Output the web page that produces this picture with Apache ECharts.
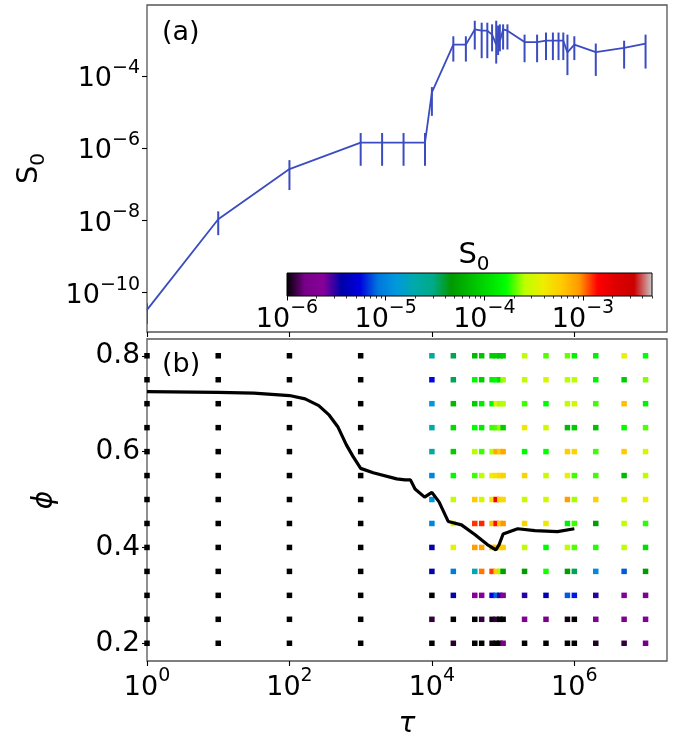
<!DOCTYPE html>
<html>
<head>
<meta charset="utf-8">
<script src="https://cdn.jsdelivr.net/npm/echarts@6/dist/echarts.min.js"></script>
<style>
  html, body { margin: 0; padding: 0; background: #fff; }
  #chart { width: 679px; height: 740px; }
</style>
</head>
<body>
<div id="chart"></div>
<script>
// (a) S0 against tau, with the lower / upper ends of each error bar
const s0Tau = [1, 10, 100, 1e3, 2e3, 4e3, 8e3, 1e4, 2e4, 3e4, 4e4, 5e4, 6e4, 7e4, 8e4, 8.5e4, 9e4, 1e5, 1.15e5,
  2e5, 3e5, 4e5, 5e5, 6e5, 7e5, 8e5, 1e6, 2e6, 5e6, 1e7]
const s0Val = [3.2e-11, 1.05e-8, 2.6e-7, 1.4e-6, 1.4e-6, 1.4e-6, 1.4e-6, 3.5e-5, 7.4e-4, 7.4e-4, 1.95e-3, 1.8e-3, 1.8e-3,
  1.4e-3, 7.4e-4, 1.6e-3, 9.1e-4, 1.95e-3, 1.8e-3,
  8.7e-4, 8.7e-4, 9.5e-4, 9.5e-4, 9.5e-4, 9.5e-4, 4.5e-4, 7.4e-4, 4.6e-4, 6.0e-4, 7.9e-4]
const s0Lo = [1.3e-11, 3.8e-9, 6.8e-8, 3.2e-7, 3.2e-7, 3.2e-7, 3.2e-7, 7.8e-6, 2.5e-4, 2.5e-4, 5.4e-4, 3.1e-4, 3.1e-4,
  4.8e-4, 2.2e-4, 3.8e-4, 4.8e-4, 5.4e-4, 5.4e-4,
  2.4e-4, 2.4e-4, 2.75e-4, 2.75e-4, 2.75e-4, 2.75e-4, 1.05e-4, 2.75e-4, 1.0e-4, 1.6e-4, 1.6e-4]
const s0Hi = [4.9e-11, 1.74e-8, 4.6e-7, 2.6e-6, 2.6e-6, 2.6e-6, 2.6e-6, 4.9e-5, 1.26e-3, 1.26e-3, 3.4e-3, 3.0e-3, 3.0e-3,
  2.7e-3, 3.4e-3, 2.5e-3, 2.7e-3, 2.7e-3, 2.7e-3,
  1.4e-3, 1.4e-3, 1.6e-3, 1.6e-3, 1.6e-3, 1.6e-3, 1.4e-3, 1.26e-3, 7.9e-4, 9.5e-4, 1.4e-3]

// (b) grid of runs: columns in tau, rows in phi, colour = log10(S0)  (-7 means below the colour range)
const gridTau = [1, 10, 100, 1e3, 1e4, 2e4, 4e4, 5e4, 7e4, 8e4, 9e4, 1e5, 2e5, 4e5, 8e5, 1e6, 2e6, 5e6, 1e7]
const gridPhi = [0.8, 0.75, 0.7, 0.65, 0.6, 0.55, 0.5, 0.45, 0.4, 0.35, 0.3, 0.25, 0.2]
const gridLogS0 = [
  [-7, -7, -7, -7, -4.65, -4.45, -4.15, -4.1, -4.05, -4.05, -4.1, -4.05, -3.58, -3.7, -3.68, -3.85, -3.85, -3.42, -3.78],
  [-7, -7, -7, -7, -5.25, -4.45, -3.8, -4.05, -3.85, -3.8, -3.95, -3.62, -3.58, -3.48, -3.6, -3.58, -3.85, -4.05, -3.65],
  [-7, -7, -7, -7, -4.9, -4.15, -4.05, -3.88, -3.8, -3.45, -3.62, -3.6, -3.72, -3.8, -3.58, -3.5, -3.72, -3.18, -3.85],
  [-7, -7, -7, -7, -4.7, -3.98, -3.78, -3.88, -3.72, -3.7, -3.62, -4.05, -3.38, -3.52, -4.15, -4.05, -4.12, -3.8, -3.7],
  [-7, -7, -7, -7, -4.65, -4.05, -3.6, -3.72, -3.6, -3.1, -3.22, -3.1, -3.8, -3.78, -3.24, -3.27, -3.72, -3.22, -3.48],
  [-7, -7, -7, -7, -5.0, -3.8, -3.72, -3.58, -3.4, -3.35, -3.3, -3.25, -3.27, -3.55, -3.42, -3.72, -3.72, -4.15, -3.58],
  [-7, -7, -7, -7, -4.9, -3.57, -3.22, -3.52, -3.35, -2.8, -3.27, -3.3, -3.55, -3.52, -3.06, -3.62, -3.27, -3.48, -3.42],
  [-7, -7, -7, -7, -5.0, -3.42, -2.92, -2.9, -3.18, -2.87, -3.24, -3.04, -3.27, -3.38, -3.85, -3.72, -4.3, -3.58, -3.74],
  [-7, -7, -7, -7, -5.45, -3.45, -3.06, -3.08, -3.16, -3.2, -3.22, -3.24, -3.58, -3.8, -3.58, -3.7, -3.75, -3.58, -3.95],
  [-7, -7, -7, -7, -5.45, -5.05, -4.75, -3.0, -2.93, -3.24, -3.62, -4.3, -4.32, -3.76, -4.32, -4.45, -4.98, -5.12, -4.32],
  [-7, -7, -7, -7, -7, -5.45, -5.65, -5.65, -5.26, -5.1, -5.5, -5.68, -5.5, -5.42, -5.12, -5.22, -5.5, -5.62, -5.75],
  [-7, -7, -7, -7, -5.92, -7, -7, -5.92, -5.97, -5.92, -7, -7, -5.7, -5.78, -5.97, -7, -5.7, -5.75, -5.62],
  [-7, -7, -7, -7, -7, -5.94, -7, -7, -5.97, -7, -7, -5.78, -7, -7, -7, -7, -5.95, -5.92, -5.8]
]

// (b) black boundary curve
const curveTau = [1, 10, 31.6, 100, 166, 258, 362, 477, 630, 780, 1e3, 1.5e3, 3.2e3, 4.2e3, 5e3, 5.8e3, 7.9e3, 1e4,
  1.26e4, 1.7e4, 2.6e4, 4e4, 6e4, 7.9e4, 8.8e4, 1e5, 1.6e5, 2.8e5, 5.8e5, 1e6]
const curvePhi = [0.725, 0.7235, 0.722, 0.717, 0.71, 0.696, 0.676, 0.652, 0.614, 0.59, 0.565, 0.556, 0.543, 0.541, 0.541,
  0.522, 0.505, 0.515, 0.495, 0.454, 0.447, 0.427, 0.406, 0.395, 0.406, 0.428, 0.439, 0.435, 0.433, 0.439]

const cbRange = [1e-6, 5e-3]
const tauTicks = [1, 100, 1e4, 1e6]
const s0Ticks = [1e-10, 1e-8, 1e-6, 1e-4]
const phiTicks = [0.2, 0.4, 0.6, 0.8]
const cbTicks = [1e-6, 1e-5, 1e-4, 1e-3]
const cbMinorTicks = [2e-6, 3e-6, 4e-6, 5e-6, 6e-6, 7e-6, 8e-6, 9e-6, 2e-5, 3e-5, 4e-5, 5e-5, 6e-5, 7e-5, 8e-5, 9e-5,
  2e-4, 3e-4, 4e-4, 5e-4, 6e-4, 7e-4, 8e-4, 9e-4, 2e-3, 3e-3, 4e-3, 5e-3]

// matplotlib nipy_spectral, 21 evenly spaced stops
const nipySpectral = ['#000000', '#770088', '#880099', '#0000aa', '#0000dd', '#0077dd', '#0099dd', '#00aaaa',
  '#00aa88', '#009900', '#00bb00', '#00dd00', '#00ff00', '#bbff00', '#eeee00', '#ffcc00', '#ff9900', '#ff0000',
  '#dd0000', '#cc0000', '#cccccc']

const FONT = 'DejaVu Sans'
const BLUE = '#3b4cc0'
const richTick = {
  b: { fontFamily: FONT, fontSize: 27, fontWeight: 'normal', color: '#000', lineHeight: 34, verticalAlign: 'bottom' },
  s: { fontFamily: FONT, fontSize: 19, fontWeight: 'normal', color: '#000', lineHeight: 22, verticalAlign: 'top' }
}
const pow10 = (v) => {
  const e = Math.round(Math.log10(v))
  return '{b|10}{s|' + (e < 0 ? '\u2212' + (-e) : e) + '}'
}
const richS0 = {
  s: { fontFamily: FONT, fontSize: 29, fontWeight: 'normal', color: '#000', lineHeight: 34, verticalAlign: 'top' },
  z: { fontFamily: FONT, fontSize: 20, fontWeight: 'normal', color: '#000', lineHeight: 24, verticalAlign: 'bottom' }
}

const scatterData = []
gridPhi.forEach((phi, i) => {
  gridTau.forEach((tau, j) => {
    scatterData.push([tau, phi, Math.max(gridLogS0[i][j], -6)])
  })
})

const chart = echarts.init(document.getElementById('chart'))

const frame = { show: true, borderColor: '#555', borderWidth: 1.3, backgroundColor: 'transparent' }
const hidden = { show: false }

const option = {
  animation: false,
  backgroundColor: '#fff',
  title: [
    { text: '(a)', left: 157, top: 14, textStyle: { fontFamily: FONT, fontSize: 27, fontWeight: 'normal', color: '#000' } },
    { text: '(b)', left: 157, top: 346, textStyle: { fontFamily: FONT, fontSize: 27, fontWeight: 'normal', color: '#000' } },
    { text: '{s|S}{z|0}', left: 469, top: 236, textAlign: 'center', textStyle: { fontWeight: 'normal', rich: richS0 } }
  ],
  grid: [
    Object.assign({ left: 147, top: 5, width: 520, height: 327 }, frame),
    Object.assign({ left: 147, top: 339, width: 520, height: 329 }, frame),
    { left: 287, top: 273, width: 365, height: 23, show: false },
    { left: 287, top: 273, width: 365, height: 23, show: false }
  ],
  xAxis: [
    {
      type: 'log', gridIndex: 0, min: 1, max: 2e7,
      axisLine: hidden, splitLine: hidden, minorTick: hidden,
      axisTick: { length: 5, lineStyle: { color: '#000', width: 1.1 }, customValues: tauTicks },
      axisLabel: { show: false }
    },
    {
      type: 'log', gridIndex: 1, min: 1, max: 2e7,
      axisLine: hidden, splitLine: hidden,
      axisTick: { length: 5, lineStyle: { color: '#000', width: 1.1 }, customValues: tauTicks },
      axisLabel: { customValues: tauTicks, formatter: pow10, rich: richTick, margin: 6 },
      name: '\u03c4', nameLocation: 'middle', nameGap: 50,
      nameTextStyle: { fontFamily: FONT, fontSize: 28, fontStyle: 'italic', color: '#000' }
    },
    {
      type: 'log', gridIndex: 2, min: cbRange[0], max: cbRange[1],
      axisLine: hidden, splitLine: hidden,
      axisTick: { length: 4.5, lineStyle: { color: '#000', width: 1 }, customValues: cbTicks },
      axisLabel: { customValues: cbTicks, formatter: pow10, rich: richTick, margin: 3 }
    },
    {
      type: 'log', gridIndex: 3, min: cbRange[0], max: cbRange[1],
      axisLine: hidden, splitLine: hidden,
      axisTick: { length: 2.5, lineStyle: { color: '#000', width: 0.8 }, customValues: cbMinorTicks },
      axisLabel: { show: false }
    }
  ],
  yAxis: [
    {
      type: 'log', gridIndex: 0, min: 7.8e-12, max: 9.3e-3,
      axisLine: hidden, splitLine: hidden,
      axisTick: { length: 5, lineStyle: { color: '#000', width: 1.1 }, customValues: s0Ticks },
      axisLabel: { customValues: s0Ticks, formatter: pow10, rich: richTick, margin: 7 },
      name: '{s|S}{z|0}', nameLocation: 'middle', nameGap: 98, nameRotate: 90,
      nameTextStyle: { fontWeight: 'normal', rich: richS0 }
    },
    {
      type: 'value', gridIndex: 1, min: 0.163, max: 0.835,
      axisLine: hidden, splitLine: hidden,
      axisTick: { length: 5, lineStyle: { color: '#000', width: 1.1 }, customValues: phiTicks },
      axisLabel: {
        customValues: phiTicks, formatter: (v) => v.toFixed(1), margin: 7,
        fontFamily: FONT, fontSize: 28, color: '#000'
      },
      name: '\u03d5', nameLocation: 'middle', nameGap: 88, nameRotate: 90,
      nameTextStyle: { fontFamily: FONT, fontSize: 28, fontStyle: 'italic', color: '#000' }
    },
    { type: 'value', gridIndex: 2, min: 0, max: 1, show: false },
    { type: 'value', gridIndex: 3, min: 0, max: 1, show: false }
  ],
  visualMap: {
    type: 'continuous', show: false, seriesIndex: 2, dimension: 2,
    min: -6, max: Math.log10(cbRange[1]),
    inRange: { color: nipySpectral }
  },
  series: [
    {
      type: 'line', xAxisIndex: 0, yAxisIndex: 0, z: 3,
      data: s0Tau.map((t, i) => [t, s0Val[i]]),
      showSymbol: false, lineStyle: { color: BLUE, width: 1.8 }
    },
    {
      type: 'custom', xAxisIndex: 0, yAxisIndex: 0, z: 3, clip: true,
      data: s0Tau.map((t, i) => [t, s0Lo[i], s0Hi[i]]),
      encode: { x: 0, y: [1, 2] },
      renderItem: (params, api) => {
        const lo = api.coord([api.value(0), api.value(1)])
        const hi = api.coord([api.value(0), api.value(2)])
        return {
          type: 'line',
          shape: { x1: lo[0], y1: lo[1], x2: hi[0], y2: hi[1] },
          style: { stroke: BLUE, lineWidth: 2 }
        }
      }
    },
    {
      type: 'scatter', xAxisIndex: 1, yAxisIndex: 1, z: 2,
      symbol: 'rect', symbolSize: 5.5,
      itemStyle: { opacity: 1 },
      data: scatterData
    },
    {
      type: 'line', xAxisIndex: 1, yAxisIndex: 1, z: 4,
      data: curveTau.map((t, i) => [t, curvePhi[i]]),
      showSymbol: false, lineStyle: { color: '#000', width: 3.2 }
    },
    {
      type: 'custom', xAxisIndex: 2, yAxisIndex: 2, z: 6,
      data: [[cbRange[0], cbRange[1]]],
      renderItem: (params, api) => {
        const p0 = api.coord([api.value(0), 0])
        const p1 = api.coord([api.value(1), 1])
        const stops = nipySpectral.map((c, i) => ({ offset: i / (nipySpectral.length - 1), color: c }))
        return {
          type: 'rect',
          shape: { x: p0[0], y: p1[1], width: p1[0] - p0[0], height: p0[1] - p1[1] },
          style: { fill: new echarts.graphic.LinearGradient(0, 0, 1, 0, stops), stroke: '#000', lineWidth: 1 }
        }
      }
    }
  ]
}

chart.setOption(option)
</script>
</body>
</html>
